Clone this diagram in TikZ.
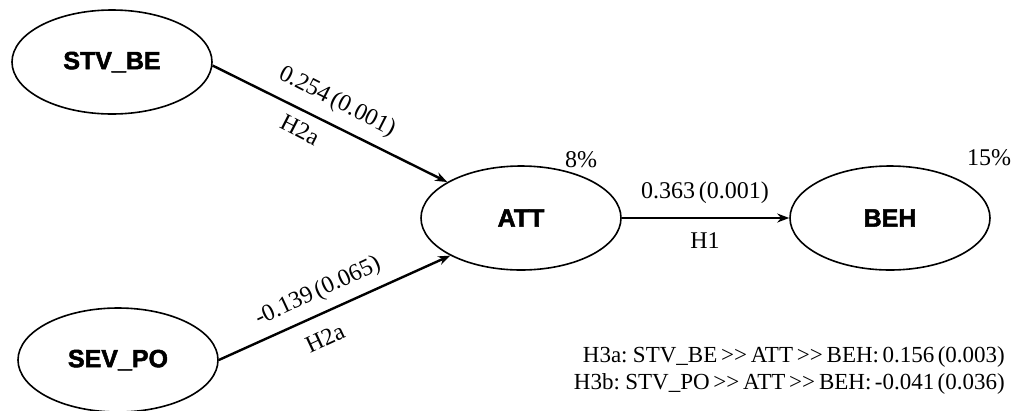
\documentclass[tikz,border=0pt]{standalone}
\usepackage{fontspec}
\setmainfont{Liberation Serif}[WordSpace=0.6]
\newfontfamily\nodefont[UprightFont={* Bold},FakeBold=2]{Liberation Sans}
\usetikzlibrary{arrows.meta,shapes.geometric}
\begin{document}
\begin{tikzpicture}[x=1pt,y=-1pt,
  lv/.style={draw,ellipse,line width=1.6pt,minimum width=200pt,minimum height=104pt,inner sep=0pt,font=\nodefont\fontsize{25}{28}\selectfont},
  path/.style={line width=2.4pt,-{Stealth[length=12pt,width=9pt]}},
  lbl/.style={font=\fontsize{24}{26}\selectfont,inner sep=1pt},
  every node/.append style={text=black}]
\useasboundingbox (0,0) rectangle (1014,410);
\node[lv] (stv) at (112,62) {STV\_BE};
\node[lv] (sev) at (118,360) {SEV\_PO};
\node[lv] (att) at (521,218) {ATT};
\node[lv] (beh) at (890,218) {BEH};
\draw[path] (stv.-2) -- (att.154);
\draw[path] (sev.east) -- (att.208);
\draw[path] (att) -- (beh);
\node[lbl,rotate=-27] (l1) at (337,102) {0.254 (0.001)};
\node[lbl,rotate=-27] (l2) at (300,130) {H2a};
\node[lbl,rotate=25] (l3) at (318,292) {-0.139 (0.065)};
\node[lbl,rotate=25] (l4) at (325,338) {H2a};
\node[lbl] (l5) at (705,193) {0.363 (0.001)};
\node[lbl] (l6) at (705,241) {H1};
\node[lbl] (r1) at (581,160) {8\%};
\node[lbl] (r2) at (989,158) {15\%};
\node[lbl,anchor=east,font=\fontsize{23}{25}\selectfont] (h3a) at (1006,357) {H3a: STV\_BE\,{>}{>}\,ATT\,{>}{>}\,BEH: 0.156 (0.003)};
\node[lbl,anchor=east,font=\fontsize{23}{25}\selectfont] (h3b) at (1006,384) {H3b: STV\_PO\,{>}{>}\,ATT\,{>}{>}\,BEH: -0.041 (0.036)};
\end{tikzpicture}
\end{document}
